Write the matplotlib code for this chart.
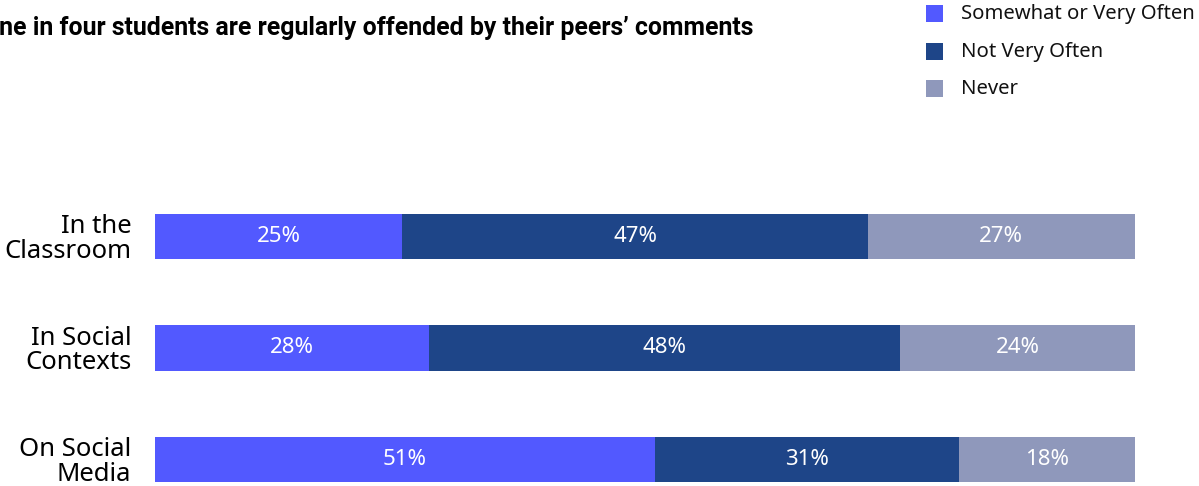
import matplotlib.pyplot as plt
from matplotlib import font_manager
from matplotlib.font_manager import FontProperties
from matplotlib.patches import Rectangle

settings = ["In the\nClassroom", "In Social\nContexts", "On Social\nMedia"]
series = ["Somewhat or Very Often", "Not Very Often", "Never"]
often = [25, 28, 51]
not_often = [47, 48, 31]
never = [27, 24, 18]
colors = ["#5259FF", "#1E4588", "#8F98BB"]
title = "One in four students are regularly offended by their peers\u2019 comments"

available = {f.name for f in font_manager.fontManager.ttflist}
body_font = "Noto Sans" if "Noto Sans" in available else "DejaVu Sans"
head_font = "Roboto" if "Roboto" in available else "DejaVu Sans"
title_prop = FontProperties(family=head_font, weight="bold")

W, H = 1199, 486
fig = plt.figure(figsize=(W / 100, H / 100), dpi=100)
ax = fig.add_axes([155 / W, 0, 980 / W, 305.25 / H])

rows = list(zip(often, not_often, never))
for i, row in enumerate(rows):
    total = sum(row)
    left = 0.0
    for value, color in zip(row, colors):
        share = value / total
        ax.barh(i, share, left=left, height=0.404, color=color, linewidth=0)
        ax.text(left + share / 2, i, f"{value}%", ha="center", va="center",
                color="white", fontsize=16, family=body_font)
        left += share

ax.set_xlim(0, 1)
ax.set_ylim(2.238, -0.5)
ax.set_yticks(range(len(settings)))
ax.set_yticklabels(settings, fontsize=18.5, family=body_font, ha="right",
                   linespacing=0.95)
ax.tick_params(axis="y", length=0, pad=17)
ax.set_xticks([])
for spine in ax.spines.values():
    spine.set_visible(False)

# headline runs off the left edge; size it so it spans about 773 px
title_prop.set_size(18)
headline = fig.text(753 / W, 1 - 28 / H, title, ha="right", va="center",
                    fontproperties=title_prop)
fig.canvas.draw()
width = headline.get_window_extent().width
title_prop.set_size(18 * 773 / width)
headline.set_fontproperties(title_prop)

# legend drawn by hand at the top right
for k, (name, color) in enumerate(zip(series, colors)):
    yc = 14 + 37.5 * k
    fig.patches.append(Rectangle((926 / W, 1 - (yc + 8.5) / H), 17 / W, 17 / H,
                                 transform=fig.transFigure, color=color,
                                 linewidth=0))
    fig.text(961 / W, 1 - yc / H, name, ha="left", va="center",
             fontsize=14.6, family=body_font, color="#111111")

fig.savefig("out.png", dpi=100)
